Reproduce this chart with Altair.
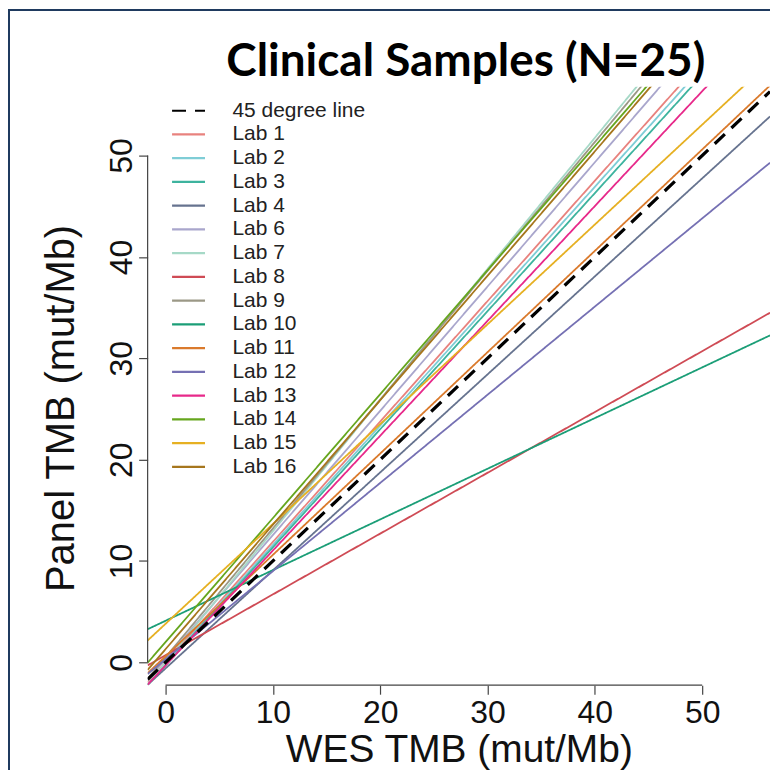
import altair as alt
import pandas as pd

# ---- data ----
labs = ["45 degree line", "Lab 1", "Lab 2", "Lab 3", "Lab 4", "Lab 6", "Lab 7", "Lab 8",
        "Lab 9", "Lab 10", "Lab 11", "Lab 12", "Lab 13", "Lab 14", "Lab 15", "Lab 16"]
intercepts = [0.0, 0.0, -0.2, -0.3, -0.6, 0.3, 0.0, 0.7,
              0.5, 4.1, 0.6, 0.3, -0.3, 2.0, 3.8, 1.3]
slopes = [1.0, 1.188, 1.178, 1.165, 0.967, 1.226, 1.294, 0.60,
          1.271, 0.50, 1.0, 0.87, 1.133, 1.223, 0.985, 1.228]
colors = ["#000000", "#E8827E", "#7FCDD6", "#3DB39E", "#66738F", "#A9A6CC", "#A6D9C7", "#CF4B55",
          "#9B9886", "#1B9E77", "#DA7A2C", "#7570B3", "#E7298A", "#66A61E", "#E6B022", "#A6761D"]
tick_values = [0, 10, 20, 30, 40, 50]
title_text = ["Clinical Samples (N=25)"]

X_MIN, X_MAX = -1.67, 56.32
Y_MIN, Y_MAX = -2.26, 56.79

dashes = [[14, 9]] + [[1, 0]] * (len(labs) - 1)

rows = []
for lab, b, m in zip(labs, intercepts, slopes):
    for xv in (X_MIN, X_MAX):
        rows.append({"lab": lab, "x": xv, "y": b + m * xv,
                     "sw": 3.2 if lab == labs[0] else 1.8})
df = pd.DataFrame(rows)

FONT = "Liberation Sans"

xscale = alt.Scale(domain=[X_MIN, X_MAX], nice=False, zero=False)
yscale = alt.Scale(domain=[Y_MIN, Y_MAX], nice=False, zero=False)

xaxis = alt.Axis(values=tick_values, domain=False, grid=False, tickSize=9, tickColor="#444",
                 tickWidth=1.2, labelFont=FONT, labelFontSize=32, labelColor="#111",
                 labelPadding=3, labelFlush=False, labelOverlap=False,
                 title="WES TMB (mut/Mb)", titleFont=FONT, titleFontSize=39,
                 titleFontWeight="normal", titleColor="#111", titleY=76,
                 titleBaseline="alphabetic")
yaxis = alt.Axis(values=tick_values, domain=False, grid=False, tickSize=9, tickColor="#444",
                 tickWidth=1.2, labelFont=FONT, labelFontSize=32, labelColor="#111",
                 labelAngle=270, labelAlign="center", labelBaseline="alphabetic",
                 labelPadding=7, labelFlush=False, labelOverlap=False,
                 title="Panel TMB (mut/Mb)", titleFont=FONT, titleFontSize=40,
                 titleFontWeight="normal", titleColor="#111", titleX=-74, titleY=322,
                 titleAngle=270, titleAlign="center", titleBaseline="alphabetic")

legend = alt.Legend(title=None, orient="none", legendX=23, legendY=14, direction="vertical",
                    symbolType="stroke", symbolSize=1089, symbolStrokeWidth=2.2,
                    clipHeight=20, rowPadding=2.8, padding=0,
                    labelFont=FONT, labelFontSize=21, labelColor="#222", labelOffset=26,
                    symbolLimit=0)

color = alt.Color("lab:N", scale=alt.Scale(domain=labs, range=colors), legend=legend)
dash = alt.StrokeDash("lab:N", scale=alt.Scale(domain=labs, range=dashes))

base = alt.Chart(df)
lab_lines = base.transform_filter(alt.datum.lab != labs[0]).mark_line(clip=True).encode(
    x=alt.X("x:Q", scale=xscale, axis=xaxis),
    y=alt.Y("y:Q", scale=yscale, axis=yaxis),
    color=color, strokeDash=dash,
    strokeWidth=alt.StrokeWidth("sw:Q", scale=None),
    detail="lab:N",
)
ref_line = base.transform_filter(alt.datum.lab == labs[0]).mark_line(clip=True).encode(
    x=alt.X("x:Q", scale=xscale, axis=xaxis),
    y=alt.Y("y:Q", scale=yscale, axis=yaxis),
    color=color, strokeDash=dash,
    strokeWidth=alt.StrokeWidth("sw:Q", scale=None),
    detail="lab:N",
)

axis_df = pd.DataFrame({"lo": [tick_values[0]], "hi": [tick_values[-1]]})
x_axis_line = alt.Chart(axis_df).mark_rule(color="#444", strokeWidth=1.2).encode(
    x=alt.X("lo:Q", scale=xscale), x2="hi:Q",
    y=alt.YDatum(Y_MIN))
y_axis_line = alt.Chart(axis_df).mark_rule(color="#444", strokeWidth=1.2).encode(
    y=alt.Y("lo:Q", scale=yscale), y2="hi:Q",
    x=alt.XDatum(X_MIN))

border = alt.Chart(pd.DataFrame({"a": [0]})).mark_rect(
    filled=False, stroke="#1F3A5F", strokeWidth=2).encode(
    x=alt.value(-139), x2=alt.value(760), y=alt.value(-77), y2=alt.value(760))

title = alt.Chart(pd.DataFrame({"t": title_text})).mark_text(
    font="Lato", fontSize=46, fontWeight="bold", color="#000",
    align="center", baseline="alphabetic").encode(
    text="t:N", x=alt.value(319), y=alt.value(-11))

chart = alt.layer(lab_lines, ref_line, x_axis_line, y_axis_line, border, title).properties(
    width=624, height=600,
    autosize=alt.AutoSizeParams(type="none"),
    padding={"left": 140, "top": 78, "right": 0, "bottom": 84},
).configure(background="white", view=alt.ViewConfig(stroke=None))

chart.save("out.html", embed_options={"renderer": "svg", "actions": False})
